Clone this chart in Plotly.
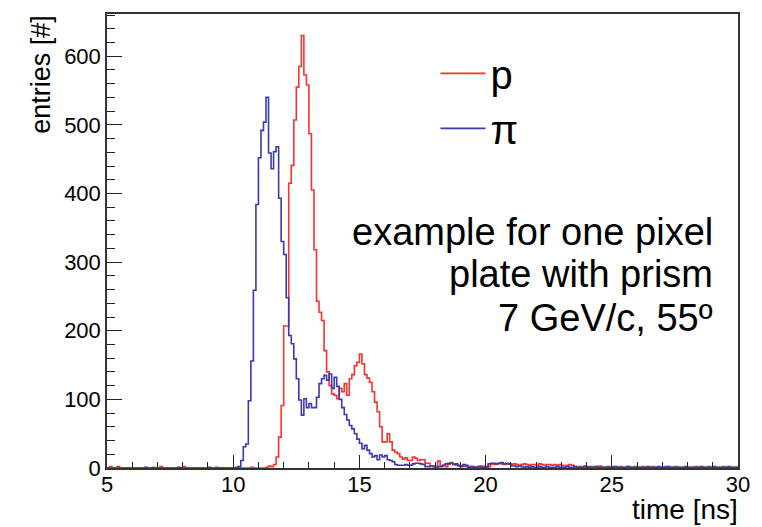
import numpy as np
import plotly.graph_objects as go

# Histogram binning: 250 bins of 0.1 ns from 5 to 30 ns
T_MIN = 5.0
BIN_W = 0.1
N_BINS = 250

# proton (p) entries per bin, rows of 10 bins starting at 5.0, 6.0, ... ns
proton_counts = [
    0, 2, 0, 0, 2, 0, 0, 0, 0, 0,            # 5.0
    0, 0, 0, 0, 0, 0, 0, 0, 1, 0,            # 6.0
    0, 2, 0, 0, 0, 0, 0, 0, 0, 0,            # 7.0
    2, 0, 0, 0, 0, 0, 0, 0, 0, 0,            # 8.0
    0, 0, 0, 1, 0, 0, 0, 0, 0, 0,            # 9.0
    0, 0, 0, 0, 0, 0, 0, 1, 0, 0,            # 10.0
    0, 0, 0, 1, 3, 2, 5, 16, 45, 91,         # 11.0
    207, 207, 415, 441, 507, 555, 585, 630, 573, 558,   # 12.0
    487, 405, 318, 243, 227, 215, 171, 140, 120, 108,   # 13.0
    106, 101, 116, 111, 123, 106, 130, 136, 149, 154,   # 14.0
    166, 152, 136, 131, 125, 111, 96, 82, 60, 38,       # 15.0
    38, 50, 38, 26, 23, 21, 16, 13, 15, 11,             # 16.0
    11, 16, 14, 11, 12, 12, 7, 7, 3, 3,                 # 17.0
    3, 10, 3, 4, 2, 5, 8, 6, 4, 3,                      # 18.0
    2, 3, 2, 2, 1, 2, 1, 2, 3, 2,                       # 19.0
    1, 2, 6, 5, 6, 7, 6, 5, 6, 6,                       # 20.0
    5, 6, 5, 4, 5, 6, 5, 4, 5, 5,                       # 21.0
    4, 6, 5, 4, 5, 5, 4, 5, 4, 5,                       # 22.0
    4, 3, 4, 5, 4, 2, 1, 2, 1, 3,                       # 23.0
    1, 2, 1, 1, 2, 3, 1, 1, 2, 1,                       # 24.0
    2, 1, 1, 2, 1, 1, 2, 1, 1, 2,                       # 25.0
    1, 1, 2, 1, 1, 1, 2, 1, 1, 1,                       # 26.0
    1, 2, 1, 1, 1, 2, 1, 1, 1, 1,                       # 27.0
    1, 1, 1, 2, 1, 1, 1, 1, 2, 1,                       # 28.0
    1, 1, 1, 1, 2, 1, 1, 1, 1, 1,                       # 29.0
]

# pion (pi) entries per bin
pion_counts = [
    0, 0, 0, 0, 0, 0, 0, 0, 0, 0,            # 5.0
    0, 0, 0, 0, 0, 1, 0, 0, 0, 0,            # 6.0
    0, 0, 0, 0, 0, 0, 0, 0, 1, 0,            # 7.0
    0, 0, 0, 0, 0, 0, 0, 0, 0, 0,            # 8.0
    1, 0, 0, 0, 0, 0, 0, 0, 0, 0,            # 9.0
    0, 1, 2, 11, 31, 35, 98, 156, 259, 384,             # 10.0
    452, 492, 504, 540, 459, 436, 461, 468, 393, 330,   # 11.0
    311, 248, 193, 181, 159, 130, 99, 77, 101, 88,      # 12.0
    94, 88, 88, 103, 123, 130, 135, 128, 137, 116,      # 13.0
    132, 119, 100, 88, 78, 70, 62, 57, 50, 42,          # 14.0
    36, 28, 33, 26, 21, 16, 18, 12, 19, 16,             # 15.0
    18, 12, 11, 9, 5, 4, 4, 4, 5, 4,                    # 16.0
    4, 6, 7, 7, 6, 5, 2, 2, 3, 2,                       # 17.0
    0, 2, 2, 4, 6, 7, 7, 5, 6, 4,                       # 18.0
    3, 5, 4, 1, 2, 1, 1, 2, 1, 1,                       # 19.0
    2, 6, 7, 7, 6, 7, 8, 6, 7, 6,                       # 20.0
    3, 3, 2, 3, 2, 1, 2, 1, 2, 1,                       # 21.0
    1, 2, 1, 1, 2, 1, 1, 1, 2, 1,                       # 22.0
    1, 1, 2, 1, 1, 2, 1, 1, 1, 2,                       # 23.0
    1, 1, 1, 2, 1, 1, 1, 1, 1, 1,                       # 24.0
    1, 2, 1, 1, 1, 1, 2, 1, 1, 1,                       # 25.0
    1, 1, 1, 1, 2, 1, 1, 1, 2, 1,                       # 26.0
    1, 1, 2, 1, 1, 1, 1, 1, 1, 2,                       # 27.0
    1, 1, 1, 1, 1, 2, 1, 1, 1, 1,                       # 28.0
    2, 1, 1, 1, 1, 1, 2, 1, 1, 1,                       # 29.0
]

x_ticks = [5, 10, 15, 20, 25, 30]
y_ticks = [0, 100, 200, 300, 400, 500, 600]
legend_names = ["p", "\u03c0"]
info_lines = ["example for one pixel", "plate with prism", "7 GeV/c, 55\u00ba"]
x_title = "time [ns]"
y_title = "entries [#]"

edges = np.round(T_MIN + BIN_W * np.arange(N_BINS + 1), 2)
FONT = "Liberation Sans, Arial, Helvetica, sans-serif"


def step_xy(counts):
    xs = list(edges[:-1]) + [edges[-1]]
    ys = list(counts) + [counts[-1]]
    return xs, ys


fig = go.Figure()
for name, counts, color, grp in [
    (legend_names[0], proton_counts, "#ff3030", "a"),
    (legend_names[1], pion_counts, "#3a3ab0", "b"),
]:
    xs, ys = step_xy(counts)
    fig.add_trace(go.Scatter(
        x=xs, y=ys, mode="lines", name=name, legendgroup=grp,
        line=dict(color=color, width=1.6, shape="hv"),
        hoverinfo="skip",
    ))

# plot-area geometry in pixels (for placing texts)
L, R, T, B = 107, 21, 12, 59
W, H = 762, 527
PW, PH = W - L - R, H - T - B


def px(xp):
    return (xp - L) / PW


def py(yp):
    return (H - B - yp) / PH


ymax = max(max(proton_counts), max(pion_counts)) * 1.05

fig.update_layout(
    width=W, height=H,
    margin=dict(l=L, r=R, t=T, b=B, pad=0),
    paper_bgcolor="white", plot_bgcolor="white",
    font=dict(family=FONT, color="black"),
    showlegend=True,
    legend=dict(
        x=px(437), y=py(39), xanchor="left", yanchor="top",
        font=dict(size=40, family=FONT, color="black"),
        bgcolor="rgba(0,0,0,0)", borderwidth=0,
        traceorder="grouped", tracegroupgap=0,
        itemwidth=45,
    ),
    xaxis=dict(
        range=[T_MIN, T_MIN + BIN_W * N_BINS], tickvals=x_ticks,
        ticks="inside", ticklen=13, tickwidth=1, tickcolor="#222",
        showline=True, linecolor="#333", linewidth=1.5, mirror=True,
        showgrid=False, zeroline=False, ticklabelstandoff=-4,
        tickfont=dict(size=22, family=FONT, color="black"),
        minor=dict(dtick=1, ticks="inside", ticklen=6, tickcolor="#222", showgrid=False),
    ),
    yaxis=dict(
        range=[0, ymax], tickvals=y_ticks,
        ticks="inside", ticklen=15, tickwidth=1, tickcolor="#222",
        showline=True, linecolor="#333", linewidth=1.5, mirror=True,
        showgrid=False, zeroline=False,
        tickfont=dict(size=22, family=FONT, color="black"),
        minor=dict(dtick=20, ticks="inside", ticklen=8, tickcolor="#222", showgrid=False),
    ),
)

annotations = []
info_line_centers = [231, 273, 317]
for txt, yc in zip(info_lines, info_line_centers):
    annotations.append(dict(
        text=txt, xref="paper", yref="paper", x=px(718), y=py(yc),
        xanchor="right", yanchor="middle", showarrow=False,
        font=dict(size=38, family=FONT, color="black"),
    ))
annotations.append(dict(
    text=x_title, xref="paper", yref="paper", x=px(743), y=py(527),
    xanchor="right", yanchor="bottom", showarrow=False,
    font=dict(size=28, family=FONT, color="black"),
))
annotations.append(dict(
    text=y_title, xref="paper", yref="paper", x=px(40), y=py(11),
    xanchor="center", yanchor="top", textangle=-90, showarrow=False,
    font=dict(size=27, family=FONT, color="black"),
))
fig.update_layout(annotations=annotations)

fig.write_html("out.html")
